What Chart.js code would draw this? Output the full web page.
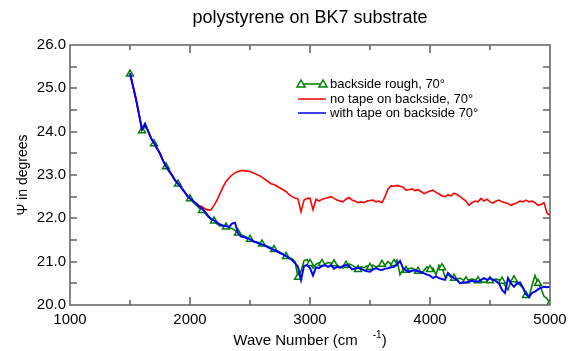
<!DOCTYPE html>
<html>
<head>
<meta charset="utf-8">
<script src="https://cdn.jsdelivr.net/npm/chart.js@4.4.1/dist/chart.umd.min.js"></script>
<style>
  html, body { margin: 0; padding: 0; background: #fff; }
  canvas { display: block; }
</style>
</head>
<body>
<canvas id="chart" width="575" height="351"></canvas>
<script>
'use strict';

const chartTitle = 'polystyrene on BK7 substrate';
const yTitle = 'Ψ in degrees';
const seriesLabels = ['backside rough, 70°', 'no tape on backside, 70°', 'with tape on backside 70°'];
const seriesColors = ['#008000', '#ff0000', '#0000ff'];

// wave numbers, every 25 cm-1
const waveNumbers = [];
for (let w = 1500; w <= 5000; w += 25) waveNumbers.push(w);

// one row = 100 cm-1
const backsideRough = [
    25.33, 25.05, 24.75, 24.40,
    24.02, 24.12, 24.02, 23.87,
    23.72, 23.60, 23.48, 23.33,
    23.19, 23.08, 22.98, 22.87,
    22.79, 22.71, 22.62, 22.52,
    22.45, 22.38, 22.31, 22.24,
    22.18, 22.12, 22.04, 21.98,
    21.94, 21.87, 21.82, 21.84,
    21.80, 21.78, 21.77, 21.72,
    21.66, 21.62, 21.59, 21.56,
    21.52, 21.47, 21.45, 21.44,
    21.41, 21.38, 21.35, 21.32,
    21.28, 21.25, 21.22, 21.18,
    21.12, 21.10, 21.07, 21.00,
    20.64, 20.78, 21.02, 21.05,
    20.96, 20.85, 20.94, 20.98,
    20.96, 20.94, 20.98, 20.97,
    20.95, 20.92, 20.88, 20.85,
    20.92, 20.95, 20.92, 20.88,
    20.82, 20.88, 20.86, 20.90,
    20.87, 20.92, 20.88, 20.90,
    20.94, 20.92, 21.00, 20.95,
    20.96, 21.04, 20.70, 20.82,
    20.80, 20.84, 20.85, 20.82,
    20.78, 20.74, 20.80, 20.88,
    20.82, 20.85, 20.70, 20.92,
    20.86, 20.65, 20.70, 20.64,
    20.62, 20.60, 20.62, 20.58,
    20.56, 20.58, 20.60, 20.58,
    20.56, 20.55, 20.52, 20.54,
    20.56, 20.58, 20.60, 20.58,
    20.55, 20.45, 20.35, 20.55,
    20.58, 20.50, 20.46, 20.40,
    20.22, 20.19, 20.45, 20.68,
    20.50, 20.38, 20.20, 20.15,
    20.03
];

const noTape = [
    25.35, 25.05, 24.75, 24.40,
    24.05, 24.18, 24.02, 23.85,
    23.74, 23.62, 23.50, 23.33,
    23.20, 23.10, 23.00, 22.88,
    22.80, 22.72, 22.63, 22.53,
    22.46, 22.40, 22.35, 22.30,
    22.26, 22.22, 22.19, 22.20,
    22.30, 22.42, 22.57, 22.72,
    22.85, 22.93, 23.00, 23.05,
    23.08, 23.10, 23.10, 23.09,
    23.08, 23.05, 23.02, 22.99,
    22.95, 22.90, 22.85, 22.80,
    22.78, 22.74, 22.70, 22.66,
    22.62, 22.55, 22.50, 22.47,
    22.45, 22.15, 22.42, 22.46,
    22.46, 22.20, 22.44, 22.40,
    22.44, 22.46, 22.48, 22.50,
    22.46, 22.42, 22.40, 22.38,
    22.44, 22.48, 22.42, 22.40,
    22.36, 22.38, 22.36, 22.40,
    22.41, 22.42, 22.38, 22.40,
    22.36, 22.50, 22.68, 22.75,
    22.74, 22.76, 22.74, 22.72,
    22.65, 22.66, 22.68, 22.64,
    22.66, 22.62, 22.57, 22.60,
    22.63, 22.65, 22.60, 22.56,
    22.52, 22.50, 22.54, 22.52,
    22.58, 22.55, 22.50, 22.45,
    22.40, 22.30, 22.36, 22.40,
    22.38, 22.46, 22.40, 22.44,
    22.38, 22.35, 22.40, 22.42,
    22.38, 22.36, 22.34, 22.30,
    22.33, 22.36, 22.40, 22.38,
    22.42, 22.38, 22.40, 22.36,
    22.30, 22.32, 22.36, 22.12,
    22.07
];

const withTape = [
    25.35, 25.05, 24.75, 24.40,
    24.05, 24.18, 24.02, 23.85,
    23.74, 23.62, 23.50, 23.33,
    23.20, 23.10, 23.00, 22.88,
    22.80, 22.72, 22.63, 22.53,
    22.46, 22.40, 22.34, 22.28,
    22.22, 22.15, 22.06, 21.99,
    21.95, 21.90, 21.86, 21.83,
    21.82, 21.80, 21.88, 21.90,
    21.66, 21.58, 21.57, 21.54,
    21.52, 21.47, 21.45, 21.42,
    21.40, 21.37, 21.33, 21.30,
    21.27, 21.24, 21.20, 21.17,
    21.13, 21.08, 21.04, 20.97,
    20.88, 20.58, 20.90, 20.92,
    20.85, 20.68, 20.87, 20.85,
    20.90, 20.92, 20.88, 20.92,
    20.84, 20.88, 20.86, 20.90,
    20.92, 20.90, 20.82, 20.84,
    20.86, 20.84, 20.80, 20.78,
    20.77, 20.82, 20.85, 20.82,
    20.81, 20.84, 20.85, 20.87,
    20.88, 20.94, 21.02, 20.85,
    20.80, 20.77, 20.79, 20.80,
    20.78, 20.76, 20.73, 20.70,
    20.68, 20.62, 20.66, 20.62,
    20.60, 20.58, 20.74, 20.67,
    20.62, 20.58, 20.50, 20.52,
    20.52, 20.54, 20.56, 20.54,
    20.54, 20.58, 20.62, 20.58,
    20.62, 20.58, 20.55, 20.50,
    20.35, 20.28, 20.62, 20.50,
    20.42, 20.50, 20.52, 20.40,
    20.25, 20.18, 20.28, 20.31,
    20.36, 20.40, 20.42, 20.41,
    20.42
];

const xTickValues = [1000, 2000, 3000, 4000, 5000];
const yTickValues = [20, 21, 22, 23, 24, 25, 26];

function toPoints(values) {
    return values.map((v, i) => ({ x: waveNumbers[i], y: v }));
}

const FONT = '"Liberation Sans", Arial, sans-serif';
Chart.defaults.font.family = FONT;
Chart.defaults.color = '#000';

// frame with inward ticks, titles and the legend inside the plot
const decorations = {
    id: 'decorations',
    afterDraw(chart) {
        const { ctx, chartArea: a, scales } = chart;
        const sx = scales.x, sy = scales.y;
        ctx.save();
        ctx.strokeStyle = '#606060';
        ctx.lineWidth = 1.5;
        const L = Math.round(a.left), R = Math.round(a.right);
        const T = Math.round(a.top), B = Math.round(a.bottom);
        ctx.beginPath();
        ctx.rect(L, T, R - L, B - T);
        for (let v = 1000; v <= 5000; v += 500) {
            const px = Math.round(sx.getPixelForValue(v));
            const len = v % 1000 === 0 ? 8 : 5;
            ctx.moveTo(px, B); ctx.lineTo(px, B - len);
            ctx.moveTo(px, T); ctx.lineTo(px, T + len);
        }
        for (let v = 20; v <= 26; v += 0.5) {
            const py = Math.round(sy.getPixelForValue(v));
            ctx.moveTo(L, py); ctx.lineTo(L + 7, py);
            ctx.moveTo(R, py); ctx.lineTo(R - 7, py);
        }
        ctx.stroke();

        // title
        ctx.fillStyle = '#000';
        ctx.textBaseline = 'middle';
        ctx.textAlign = 'center';
        ctx.font = '18px ' + FONT;
        ctx.fillText(chartTitle, (a.left + a.right) / 2, 18);

        // x title with superscript
        ctx.font = '15px ' + FONT;
        const main = 'Wave Number (cm';
        const wMain = ctx.measureText(main).width;
        ctx.font = '10px ' + FONT;
        const wSup = ctx.measureText('-1').width;
        ctx.font = '15px ' + FONT;
        const wEnd = ctx.measureText(')').width;
        const gap = 15;
        let x0 = (a.left + a.right) / 2 - (wMain + gap + wSup + wEnd) / 2;
        ctx.textAlign = 'left';
        ctx.fillText(main, x0, 341);
        ctx.font = '10px ' + FONT;
        ctx.fillText('-1', x0 + wMain + gap, 335);
        ctx.font = '15px ' + FONT;
        ctx.fillText(')', x0 + wMain + gap + wSup, 341);

        // legend
        ctx.font = '13px ' + FONT;
        const lx = 298, rows = [84, 99, 113];
        for (let i = 0; i < 3; i++) {
            const yy = rows[i];
            ctx.strokeStyle = seriesColors[i];
            ctx.lineWidth = 1.5;
            ctx.beginPath();
            ctx.moveTo(lx, yy); ctx.lineTo(lx + 28, yy);
            ctx.stroke();
            if (i === 0) {
                for (const tx of [lx + 3, lx + 25]) {
                    ctx.beginPath();
                    ctx.moveTo(tx, yy - 4); ctx.lineTo(tx + 4, yy + 3); ctx.lineTo(tx - 4, yy + 3);
                    ctx.closePath();
                    ctx.fillStyle = '#fff';
                    ctx.fill();
                    ctx.stroke();
                }
            }
            ctx.fillStyle = '#000';
            ctx.fillText(seriesLabels[i], lx + 32, yy);
        }
        ctx.restore();
    }
};

new Chart(document.getElementById('chart'), {
    type: 'line',
    data: {
        datasets: [
            {
                label: seriesLabels[2],
                data: toPoints(withTape),
                borderColor: seriesColors[2],
                borderWidth: 2,
                pointRadius: 0,
                order: 0
            },
            {
                label: seriesLabels[1],
                data: toPoints(noTape),
                borderColor: seriesColors[1],
                borderWidth: 1.6,
                pointRadius: 0,
                order: 1
            },
            {
                label: seriesLabels[0],
                data: toPoints(backsideRough),
                borderColor: seriesColors[0],
                borderWidth: 1.6,
                pointStyle: 'triangle',
                pointRadius: (c) => (c.dataIndex % 4 === 0 ? 4 : 0),
                pointBorderWidth: 1.5,
                pointBackgroundColor: '#fff',
                pointBorderColor: seriesColors[0],
                order: 2
            }
        ]
    },
    options: {
        responsive: false,
        animation: false,
        devicePixelRatio: 1,
        layout: { padding: { left: 0, right: 25, top: 45, bottom: 0 } },
        plugins: {
            legend: { display: false },
            tooltip: { enabled: false }
        },
        elements: { line: { tension: 0 } },
        scales: {
            x: {
                type: 'linear',
                min: 1000,
                max: 5000,
                grid: { display: false, drawTicks: false },
                border: { display: false },
                afterFit: (s) => { s.height = 46; },
                afterBuildTicks: (s) => { s.ticks = xTickValues.map(v => ({ value: v })); },
                ticks: {
                    padding: 6,
                    font: { size: 15 },
                    maxRotation: 0,
                    callback: (v) => String(v)
                }
            },
            y: {
                min: 20,
                max: 26,
                grid: { display: false, drawTicks: false },
                border: { display: false },
                afterFit: (s) => { s.width = 70; },
                afterBuildTicks: (s) => { s.ticks = yTickValues.map(v => ({ value: v })); },
                title: {
                    display: true,
                    text: yTitle,
                    font: { size: 14 },
                    padding: { top: 15, bottom: 0 }
                },
                ticks: {
                    padding: 4,
                    font: { size: 15 },
                    callback: (v) => v.toFixed(1)
                }
            }
        }
    },
    plugins: [decorations]
});
</script>
</body>
</html>
